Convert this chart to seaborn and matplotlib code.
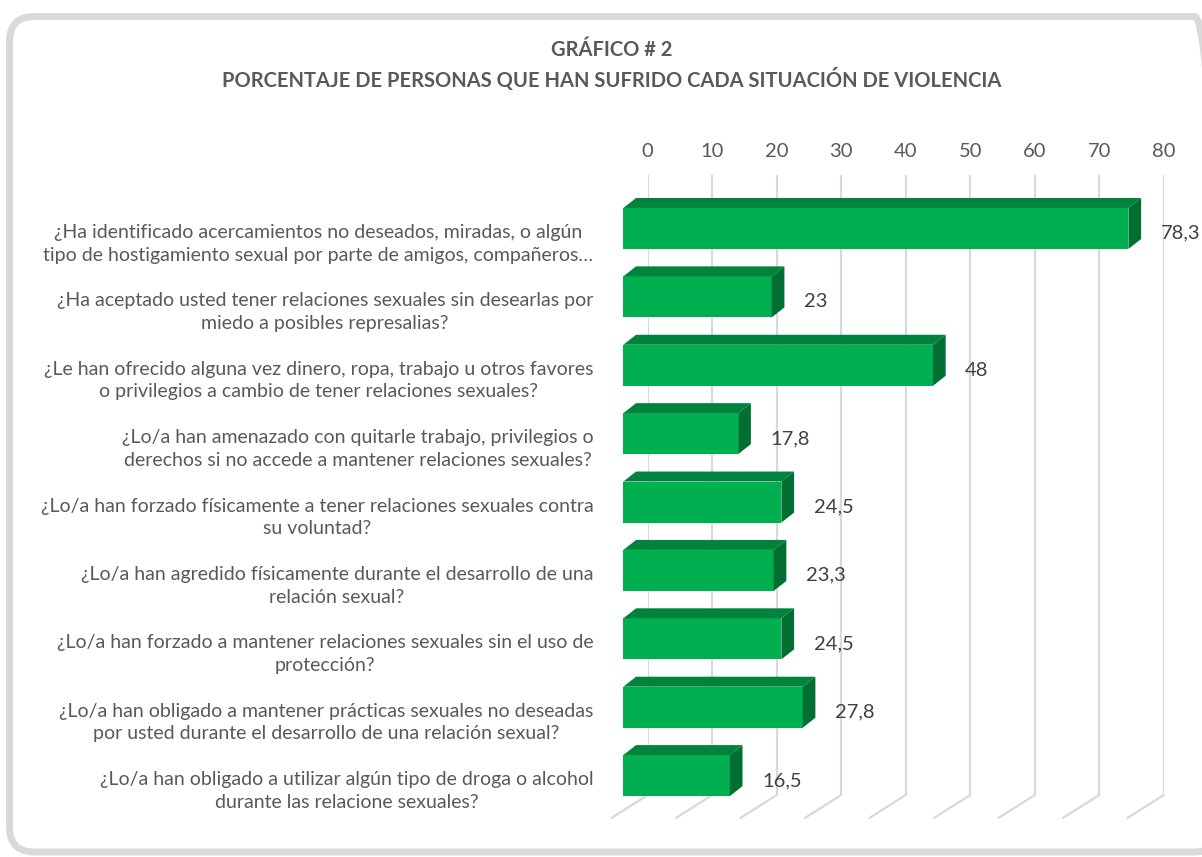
"""
Grafico 2: porcentaje de personas que han sufrido cada situacion de violencia
(barras horizontales con efecto 3D tipo Excel)
"""
import numpy as np
import pandas as pd
import matplotlib
matplotlib.use('Agg')
import matplotlib.pyplot as plt
import matplotlib.transforms as mtransforms
from matplotlib.patches import Polygon, FancyBboxPatch
import seaborn as sns

preguntas = [
    "¿Ha identificado acercamientos no deseados, miradas, o algún\ntipo de hostigamiento sexual por parte de amigos, compañeros…",
    "¿Ha aceptado usted tener relaciones sexuales sin desearlas por\nmiedo a posibles represalias?",
    "¿Le han ofrecido alguna vez dinero, ropa, trabajo u otros favores\no privilegios a cambio de tener relaciones sexuales?",
    "¿Lo/a han amenazado con quitarle trabajo, privilegios o\nderechos si no accede a mantener relaciones sexuales?",
    "¿Lo/a han forzado físicamente a tener relaciones sexuales contra\nsu voluntad?",
    "¿Lo/a han agredido físicamente durante el desarrollo de una\nrelación sexual?",
    "¿Lo/a han forzado a mantener relaciones sexuales sin el uso de\nprotección?",
    "¿Lo/a han obligado a mantener prácticas sexuales no deseadas\npor usted durante el desarrollo de una relación sexual?",
    "¿Lo/a han obligado a utilizar algún tipo de droga o alcohol\ndurante las relacione sexuales?",
]
porcentajes = [78.3, 23, 48, 17.8, 24.5, 23.3, 24.5, 27.8, 16.5]
ticks_x = [0, 10, 20, 30, 40, 50, 60, 70, 80]

titulo_1 = "GRÁFICO # 2"
titulo_2 = "PORCENTAJE DE PERSONAS QUE HAN SUFRIDO CADA SITUACIÓN DE VIOLENCIA"

# colores
VERDE = '#00B050'
VERDE_TOP = '#00843D'
VERDE_LADO = '#006F31'
GRIS_TXT = '#595959'
GRIS_VAL = '#404040'
GRIS_GRID = '#D9D9D9'

# profundidad del efecto 3D (unidades de datos)
DX = 1.97     # hacia la derecha
DY = 0.146    # hacia arriba
FLOOR_DX = 5.6
Y_TOP, Y_BOT, Y_WALL = -0.782, 8.62, 8.285

sns.set_theme(style='white')
plt.rcParams['font.family'] = ['Lato', 'DejaVu Sans']

fig = plt.figure(figsize=(12.02, 8.57), dpi=100)

# pared del fondo: lineas de division y etiquetas de eje arriba
ax_wall = fig.add_axes([0.5388, 0.0723, 0.4293, 0.7235])
ax_wall.set_xlim(0, 80)
ax_wall.set_ylim(Y_WALL, Y_TOP)
ax_wall.set_xticks(ticks_x)
ax_wall.set_yticks([])
ax_wall.xaxis.tick_top()
ax_wall.tick_params(axis='x', length=0, pad=11, labelsize=14.5, labelcolor=GRIS_TXT)
ax_wall.grid(axis='x', color=GRIS_GRID, linewidth=1.6)
ax_wall.set_facecolor('none')
for s in ax_wall.spines.values():
    s.set_visible(False)
# lineas del piso
for v in ticks_x:
    ax_wall.plot([v, v - FLOOR_DX], [Y_WALL, Y_BOT], color=GRIS_GRID, lw=1.6, clip_on=False)

# barras
ax = fig.add_axes([0.5186, 0.0455, 0.4293, 0.7503])
ax.set_facecolor('none')
df = pd.DataFrame({'pregunta': preguntas, 'pct': porcentajes})
sns.barplot(data=df, x='pct', y='pregunta', orient='h', color=VERDE, saturation=1,
            width=0.6, linewidth=0, ax=ax, zorder=3)
ax.set_xlim(0, 80)
ax.set_ylim(Y_BOT, Y_TOP)
ax.set_xticks([])
ax.set_xlabel('')
ax.set_ylabel('')
for s in ax.spines.values():
    s.set_visible(False)

for i, v in enumerate(porcentajes):
    top, bot = i - 0.3, i + 0.3
    cara_sup = Polygon([(0, top), (v, top), (v + DX, top - DY), (DX, top - DY)],
                       closed=True, facecolor=VERDE_TOP, edgecolor='none', zorder=3, clip_on=False)
    cara_lado = Polygon([(v, top), (v, bot), (v + DX, bot - DY), (v + DX, top - DY)],
                        closed=True, facecolor=VERDE_LADO, edgecolor='none', zorder=3, clip_on=False)
    ax.add_patch(cara_sup)
    ax.add_patch(cara_lado)
    etiqueta = f"{v:g}".replace('.', ',')
    ax.text(v + 5.0, i + 0.07, etiqueta, ha='left', va='center', fontsize=14.5,
            color=GRIS_VAL, clip_on=False)

ax.tick_params(axis='y', length=0, pad=21.6, labelsize=14, labelcolor=GRIS_TXT)
baja = mtransforms.ScaledTranslation(0, -0.11, fig.dpi_scale_trans)
for lbl in ax.get_yticklabels():
    lbl.set_multialignment('center')
    lbl.set_linespacing(1.4)
    lbl.set_transform(lbl.get_transform() + baja)

# titulo
fig.text(0.509, 1 - 50 / 857, titulo_1, ha='center', va='center', fontsize=14.5,
         fontweight='bold', color=GRIS_TXT)
fig.text(0.509, 1 - 80 / 857, titulo_2, ha='center', va='center', fontsize=14.5,
         fontweight='bold', color=GRIS_TXT)

# marco redondeado
marco = FancyBboxPatch((0.095, 0.05), 12.1, 8.355,
                       boxstyle='round,pad=0,rounding_size=0.25',
                       transform=fig.dpi_scale_trans, facecolor='none',
                       edgecolor=GRIS_GRID, linewidth=5, clip_on=False)
fig.patches.append(marco)

fig.savefig('out.png', dpi=100)
